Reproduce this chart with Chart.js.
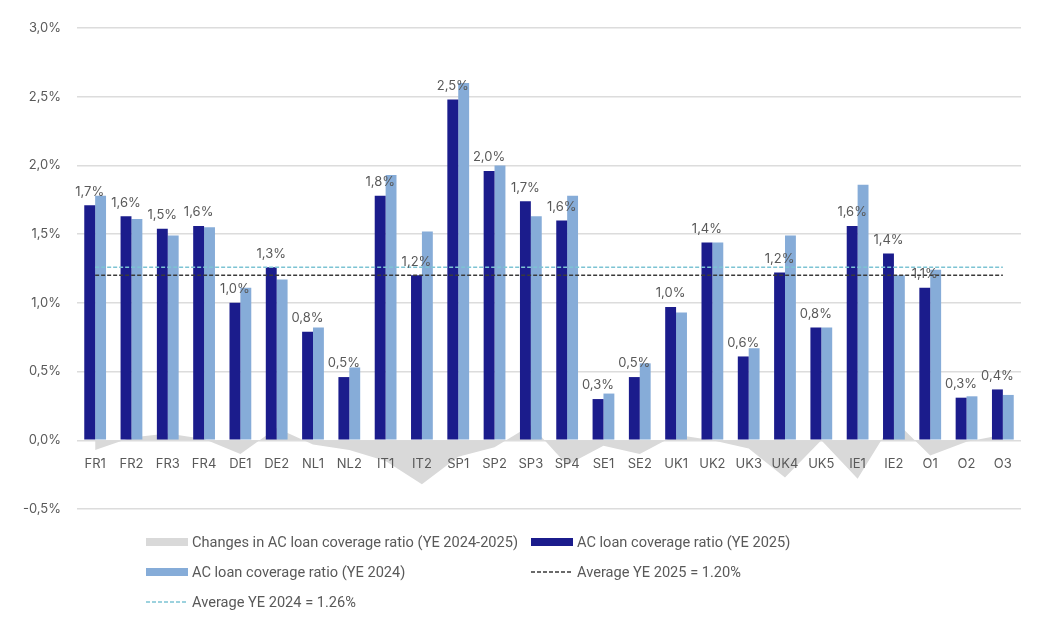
<!DOCTYPE html>
<html>
<head>
<meta charset="utf-8">
<script src="https://cdn.jsdelivr.net/npm/chart.js@4.4.1/dist/chart.umd.min.js"></script>
<style>
  body { margin: 0; background: #fff; }
  #wrap { position: relative; width: 1040px; height: 626px; }
  #legend {
    position: absolute; left: 146px; top: 527px;
    display: grid; grid-template-columns: 385px 385px; grid-auto-rows: 30px;
    font-family: Roboto, sans-serif;
    font-size: 14.6px; color: #595959;
  }
  .item { display: flex; align-items: center; white-space: nowrap; }
  .item svg { margin-right: 4px; flex: none; }
</style>
</head>
<body>
<div id="wrap">
  <canvas id="coverageChart" width="1040" height="626"></canvas>
  <div id="legend"></div>
</div>
<script>
// Categories (banks) on the x axis
const categories = ['FR1', 'FR2', 'FR3', 'FR4', 'DE1', 'DE2', 'NL1', 'NL2', 'IT1', 'IT2', 'SP1', 'SP2', 'SP3',
  'SP4', 'SE1', 'SE2', 'UK1', 'UK2', 'UK3', 'UK4', 'UK5', 'IE1', 'IE2', 'O1', 'O2', 'O3'];

// AC loan coverage ratio, in %
const coverage2025 = [1.71, 1.63, 1.54, 1.56, 1.00, 1.26, 0.79, 0.46, 1.78, 1.20, 2.48, 1.96, 1.74,
  1.60, 0.30, 0.46, 0.97, 1.44, 0.61, 1.22, 0.82, 1.56, 1.36, 1.11, 0.31, 0.37];
const coverage2024 = [1.78, 1.61, 1.49, 1.55, 1.11, 1.17, 0.82, 0.53, 1.93, 1.52, 2.60, 2.00, 1.63,
  1.78, 0.34, 0.56, 0.93, 1.44, 0.67, 1.49, 0.82, 1.86, 1.20, 1.24, 0.32, 0.33];

// Change YE 2024 -> YE 2025 (grey area)
const coverageChange = [-0.07, 0.02, 0.05, 0.01, -0.10, 0.09, -0.03, -0.07, -0.15, -0.32, -0.12, -0.05, 0.11,
  -0.18, -0.04, -0.10, 0.04, 0.00, -0.06, -0.27, 0.00, -0.28, 0.15, -0.11, -0.01, 0.04];

// Averages
const average2025 = 1.20;
const average2024 = 1.26;

// Y axis ticks
const yMin = -0.5;
const yMax = 3.0;
const yStep = 0.5;

const textColor = '#595959';
const pct = v => v.toFixed(1).replace('.', ',') + '%';

// Value labels above the YE 2025 bars
const barValueLabels = {
  id: 'barValueLabels',
  afterDatasetsDraw(chart) {
    const meta = chart.getDatasetMeta(1);
    const ctx = chart.ctx;
    ctx.save();
    ctx.font = '13px Inter';
    ctx.fillStyle = textColor;
    ctx.textAlign = 'center';
    ctx.textBaseline = 'bottom';
    meta.data.forEach((bar, i) => {
      ctx.fillText(pct(coverage2025[i]), bar.x, bar.y - 7);
    });
    ctx.restore();
  }
};

const datasets = [
  {
    type: 'line',
    label: 'Changes in AC loan coverage ratio (YE 2024-2025)',
    data: coverageChange,
    backgroundColor: '#d9d9d9',
    borderWidth: 0,
    pointRadius: 0,
    fill: 'origin',
    tension: 0,
    order: 3
  },
  {
    type: 'bar',
    label: 'AC loan coverage ratio (YE 2025)',
    data: coverage2025,
    backgroundColor: '#1b1c8c',
    categoryPercentage: 0.6,
    barPercentage: 1.0,
    order: 2
  },
  {
    type: 'bar',
    label: 'AC loan coverage ratio (YE 2024)',
    data: coverage2024,
    backgroundColor: '#86acd8',
    categoryPercentage: 0.6,
    barPercentage: 1.0,
    order: 2
  },
  {
    type: 'line',
    label: 'Average YE 2025 = 1.20%',
    data: [{ x: categories[0], y: average2025 }, { x: categories[categories.length - 1], y: average2025 }],
    borderColor: '#3a3a3a',
    borderWidth: 1.5,
    borderDash: [4, 2],
    pointRadius: 0,
    fill: false,
    order: 1
  },
  {
    type: 'line',
    label: 'Average YE 2024 = 1.26%',
    data: [{ x: categories[0], y: average2024 }, { x: categories[categories.length - 1], y: average2024 }],
    borderColor: '#7cc3d3',
    borderWidth: 1.5,
    borderDash: [4, 2],
    pointRadius: 0,
    fill: false,
    order: 1
  }
];

const ctx = document.getElementById('coverageChart').getContext('2d');
const coverageChart = new Chart(ctx, {
  type: 'bar',
  data: { labels: categories, datasets: datasets },
  options: {
    responsive: false,
    animation: false,
    layout: { padding: { left: 0, right: 19, top: 28, bottom: 117 } },
    plugins: {
      legend: { display: false },
      tooltip: { enabled: false }
    },
    scales: {
      x: {
        position: { y: 0 },
        offset: true,
        grid: { display: false, drawTicks: false },
        border: { display: false },
        ticks: {
          z: 1, // labels over the grey area
          color: textColor,
          font: { family: 'Inter', size: 13 },
          padding: 16,
          maxRotation: 0,
          autoSkip: false
        }
      },
      y: {
        min: yMin,
        max: yMax,
        grid: { color: '#dcdcdc', lineWidth: 1.5, drawTicks: false },
        border: { display: false },
        ticks: {
          stepSize: yStep,
          padding: 16,
          color: textColor,
          font: { family: 'Inter', size: 13 },
          callback: v => pct(v)
        },
        afterFit: scale => { scale.width = 77; }
      }
    }
  },
  plugins: [barValueLabels]
});

// Legend laid out as a two-column grid under the chart
const legendBox = document.getElementById('legend');
coverageChart.data.datasets.forEach(ds => {
  const item = document.createElement('div');
  item.className = 'item';
  let swatch;
  if (ds.type === 'bar' || ds.fill === 'origin') {
    swatch = '<svg width="42" height="8"><rect x="0" y="0" width="42" height="8" fill="' + ds.backgroundColor + '"/></svg>';
  } else {
    swatch = '<svg width="42" height="8"><line x1="0" y1="4" x2="42" y2="4" stroke="' + ds.borderColor +
      '" stroke-width="1.5" stroke-dasharray="4 2"/></svg>';
  }
  item.innerHTML = swatch + '<span>' + ds.label + '</span>';
  legendBox.appendChild(item);
});
</script>
</body>
</html>
